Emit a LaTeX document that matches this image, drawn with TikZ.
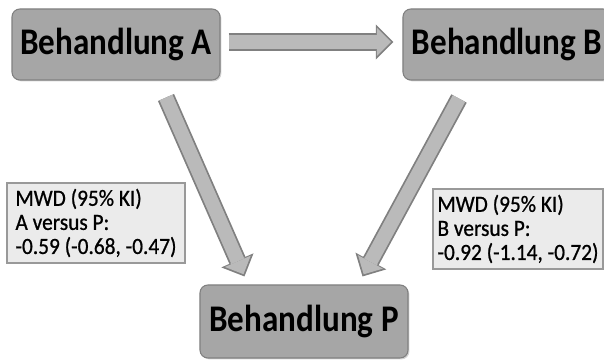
\documentclass[tikz,border=0pt]{standalone}
\usepackage{fontspec}
\setmainfont{Carlito}
\newfontfamily\boxfont{Carlito}[FakeStretch=0.88]
\newfontfamily\notefont{Carlito}[FakeStretch=0.92, FakeBold=0.8]
\usetikzlibrary{arrows.meta,calc,shadows}

\tikzset{
  treat/.style={draw=black!50, fill=black!35, rounded corners=4.5pt, line width=0.6pt,
    minimum width=4.16cm, minimum height=1.42cm, inner sep=0pt,
    font=\boxfont\fontsize{21.4}{23}\selectfont\bfseries,
    drop shadow={shadow xshift=0.8pt, shadow yshift=-0.8pt, opacity=0.35}},
  mwd/.style={draw=black!40, fill=black!8, line width=0.6pt, align=left,
    minimum width=3.56cm, minimum height=1.6cm, inner sep=0pt,
    font=\notefont\fontsize{13.2}{13.7}\selectfont,
    drop shadow={shadow xshift=0.8pt, shadow yshift=-0.8pt, opacity=0.3}},
  fatarrow/.style={draw=black!27, line width=8pt, shorten >=1.4pt,
    -{Triangle[length=8pt,width=16pt,line width=0pt,fill=black!27]},
    preaction={draw=black!50, line width=10pt, shorten >=0pt,
      -{Triangle[length=10pt,width=20pt,line width=0pt,fill=black!50]}}},
}

\begin{document}
\begin{tikzpicture}
\clip (0,0) rectangle (12.08,7.2);

\node[treat] (ba) at (2.32,6.31) {Behandlung A};
\node[treat] (bb) at (10.14,6.31) {Behandlung B};
\node[treat, minimum height=1.46cm] (bp) at (6.08,0.77) {Behandlung P};

\node[mwd] (ma) at (1.92,2.74) {MWD (95\% KI)\\A versus P:\\-0.59 (-0.68, -0.47)};
\node[mwd, minimum width=3.4cm] (mb) at (10.36,2.62) {MWD (95\% KI)\\B versus P:\\-0.92 (-1.14, -0.72)};

% arrows between the treatments
\draw[fatarrow] ($(ba.east)+(0.16,0.05)$) -- ($(bb.west)+(-0.18,0.05)$);
\draw[fatarrow] ($(ba.south)+(1,-0.34)$) -- ($(bp.north west)+(0.9,0.16)$);
\draw[fatarrow] ($(bb.south)+(-0.96,-0.36)$) -- ($(bp.north east)+(-0.92,0.16)$);

\end{tikzpicture}
\end{document}
